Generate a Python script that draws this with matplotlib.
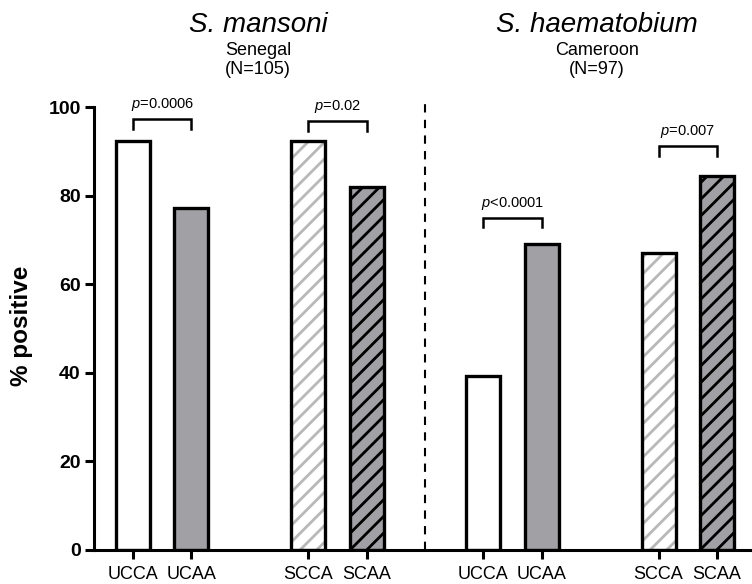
import matplotlib
matplotlib.use("Agg")
import matplotlib.pyplot as plt

plt.rcParams['font.family'] = ['Liberation Sans', 'DejaVu Sans']
plt.rcParams['mathtext.fontset'] = 'custom'
plt.rcParams['mathtext.rm'] = 'Liberation Sans'
plt.rcParams['mathtext.it'] = 'Liberation Sans:italic'
plt.rcParams['hatch.linewidth'] = 2.0

# ---- data ----
categories = ["UCCA", "UCAA", "SCCA", "SCAA", "UCCA", "UCAA", "SCCA", "SCAA"]
positions = [0, 1, 3, 4, 6, 7, 9, 10]
values = [92.4, 77.1, 92.4, 81.9, 39.2, 69.1, 67.0, 84.5]
group_titles = ["S. mansoni", "S. haematobium"]
group_sub = ["Senegal", "Cameroon"]
group_n = ["(N=105)", "(N=97)"]
group_centers = [2.14, 7.94]
comparisons = [(0, 1, 97.3, "=0.0006"), (2, 3, 96.8, "=0.02"),
               (4, 5, 75.0, "<0.0001"), (6, 7, 91.2, "=0.007")]
yticks = [0, 20, 40, 60, 80, 100]

# styles per bar type
GRAY = "#a1a1a5"
LIGHT = "#b8b8b8"
styles = {
    "UCCA": dict(face="white", hatch=None, hcol=None),
    "UCAA": dict(face=GRAY, hatch=None, hcol=None),
    "SCCA": dict(face="white", hatch="//", hcol=LIGHT),
    "SCAA": dict(face=GRAY, hatch="//", hcol="black"),
}

fig = plt.figure(figsize=(7.52, 5.84), dpi=100)
ax = fig.add_axes([94/752, 34/584, 658/752, 443/584])

W = 0.58
EDGE_LW = 2.4
for cat, x, v in zip(categories, positions, values):
    st = styles[cat]
    if st["hatch"]:
        ax.bar(x, v, width=W, color=st["face"], edgecolor=st["hcol"],
               hatch=st["hatch"], linewidth=0, zorder=2)
    else:
        ax.bar(x, v, width=W, color=st["face"], linewidth=0, zorder=2)
    ax.bar(x, v, width=W, fill=False, edgecolor="black", linewidth=EDGE_LW, zorder=3)

# significance brackets
for i, j, y, txt in comparisons:
    x1, x2 = positions[i], positions[j]
    ax.plot([x1, x1, x2, x2], [y - 2.2, y, y, y - 2.2], color="black",
            lw=1.8, solid_joinstyle="miter", zorder=4, clip_on=False)
    ax.text((x1 + x2) / 2, y + 2.5, r"$\mathit{p}$" + txt, ha="center",
            va="baseline", fontsize=10.5)

# dashed separator
ax.plot([5, 5], [0, 102.3], color="black", lw=1.5, ls=(0, (4, 3.5)),
        clip_on=False, zorder=1)

ax.set_xlim(-0.668, 10.6)
ax.set_ylim(0, 100)
ax.set_yticks(yticks)
ax.set_yticklabels([str(t) for t in yticks], fontweight="bold", fontsize=14)
ax.set_xticks(positions)
ax.set_xticklabels(categories, fontsize=13)
ax.tick_params(axis="both", direction="out", length=6.5, width=2.2)
ax.tick_params(axis="y", pad=3)
ax.tick_params(axis="x", pad=5)
for s in ["top", "right"]:
    ax.spines[s].set_visible(False)
for s in ["left", "bottom"]:
    ax.spines[s].set_linewidth(2.2)
ax.set_ylabel("% positive", fontsize=17.5, fontweight="bold")
ax.yaxis.set_label_coords(-0.093, 0.507)

# group titles
for c, t, s, n in zip(group_centers, group_titles, group_sub, group_n):
    xf = ax.transData.transform((c, 0))[0] / fig.bbox.width
    fig.text(xf, 1 - 32/584, t, ha="center", va="baseline", fontsize=20, style="italic")
    fig.text(xf, 1 - 55/584, s, ha="center", va="baseline", fontsize=13)
    fig.text(xf, 1 - 74/584, n, ha="center", va="baseline", fontsize=13)

fig.savefig("out.png", dpi=100)
